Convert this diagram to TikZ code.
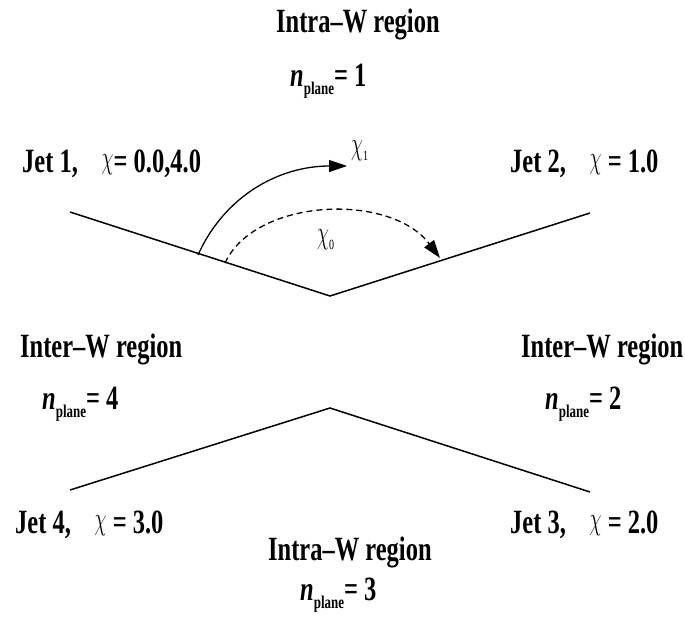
\documentclass[tikz,border=0pt]{standalone}
\usepackage{graphicx}
\usepackage{fontspec}
\setmainfont{Liberation Serif}[FakeStretch=0.72]
\usetikzlibrary{arrows.meta}
\tikzset{
  lbl/.style={font=\bfseries\fontsize{34}{38}\selectfont, inner sep=0pt, anchor=base west},
  chilbl/.style={font=\fontsize{30}{34}\selectfont, inner sep=0pt, anchor=base west},
  wedge/.style={line width=1.5pt, line join=miter},
  turn/.style={-{Triangle[length=18pt,width=12pt]}, line width=1.3pt},
}
\newcommand{\nplane}[1]{\textit{n}\raisebox{-8pt}{\fontsize{18}{20}\selectfont plane}= #1}
\newcommand{\chiup}{\raisebox{4pt}{\scalebox{0.78}[1.3]{$\chi$}}}

\begin{document}
\begin{tikzpicture}[x=1pt, y=-1pt]
  \useasboundingbox (0,0) rectangle (685,619);
  % upper pair of jets
  \coordinate (j1) at (70,212);
  \coordinate (v12) at (330,296);
  \coordinate (j2) at (590,213);
  % lower pair of jets
  \coordinate (j4) at (70,490);
  \coordinate (v34) at (330,408);
  \coordinate (j3) at (590,492);
  \draw[wedge] (j1) -- (v12) -- (j2);
  \draw[wedge] (j4) -- (v34) -- (j3);

  % angles
  \coordinate (a1s) at (198,255);
  \coordinate (a1e) at (347,166);
  \coordinate (a0s) at (225,263);
  \coordinate (a0e) at (440,258);
  \draw[turn] (a1s) .. controls (225,195) and (280,166) .. (a1e);
  \draw[turn, dash pattern=on 6pt off 4pt] (a0s) .. controls (255,198) and (390,192) .. (a0e);
  \node[chilbl] (chi1) at (351,158) {\chiup\raisebox{-2pt}{\fontsize{14}{15}\selectfont 1}};
  \node[chilbl] (chi0) at (317,247) {\chiup\raisebox{-2pt}{\fontsize{14}{15}\selectfont 0}};

  % labels
  \node[lbl] (intra1) at (276,32) {Intra–W region};
  \node[lbl] (np1) at (290,86) {\nplane{1}};
  \node[lbl] (jet1) at (22,172) {Jet 1,\hspace{0.7em}\chiup= 0.0,4.0};
  \node[lbl] (jet2) at (510,172) {Jet 2,\hspace{0.7em}\chiup{} = 1.0};
  \node[lbl] (inter4) at (20,357) {Inter–W region};
  \node[lbl] (np4) at (42,409) {\nplane{4}};
  \node[lbl] (inter2) at (521,357) {Inter–W region};
  \node[lbl] (np2) at (545,409) {\nplane{2}};
  \node[lbl] (jet4) at (15,533) {Jet 4,\hspace{0.7em}\chiup{} = 3.0};
  \node[lbl] (intra3) at (268,560) {Intra–W region};
  \node[lbl] (np3) at (300,600) {\nplane{3}};
  \node[lbl] (jet3) at (510,533) {Jet 3,\hspace{0.7em}\chiup{} = 2.0};
\end{tikzpicture}
\end{document}
